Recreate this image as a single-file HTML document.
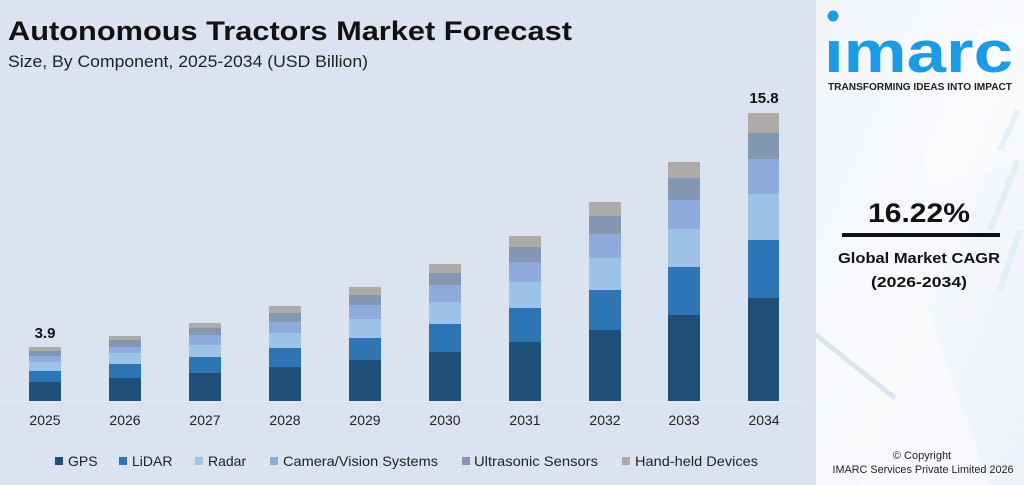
<!DOCTYPE html>
<html><head><meta charset="utf-8"><style>
html,body{margin:0;padding:0;}
body{width:1024px;height:485px;overflow:hidden;background:#dce3f0;}
svg{display:block;}
text{font-family:"Liberation Sans",sans-serif;}
</style></head><body>
<svg width="1024" height="485" viewBox="0 0 1024 485" xmlns="http://www.w3.org/2000/svg">
<defs>
<linearGradient id="rp" x1="0" y1="0" x2="1" y2="1">
<stop offset="0" stop-color="#f2f6fb"/><stop offset="0.5" stop-color="#f7f9fc"/><stop offset="1" stop-color="#eef2f7"/>
</linearGradient>
</defs>
<rect x="0" y="0" width="1024" height="485" fill="#dce3f0"/>
<rect x="816" y="0" width="208" height="485" fill="url(#rp)"/>
<!-- faint decorations -->
<polygon points="900,40 1024,20 1024,160 930,190" fill="#ffffff" opacity="0.3"/>
<polygon points="816,300 900,230 990,485 860,485" fill="#fbfcfe" opacity="0.5"/>
<line x1="816" y1="335" x2="895" y2="398" stroke="#d5e0ec" stroke-width="5" opacity="0.8"/>
<g stroke="#d7ecf4" stroke-width="6" opacity="0.6">
<line x1="1018" y1="110" x2="1000" y2="150"/><line x1="1018" y1="160" x2="990" y2="230"/><line x1="1020" y1="230" x2="1000" y2="290"/>
</g>

<!-- title -->
<text x="8" y="40" font-size="27" font-weight="bold" fill="#111" textLength="564" lengthAdjust="spacingAndGlyphs">Autonomous Tractors Market Forecast</text>
<text x="8" y="67" font-size="17" fill="#222" textLength="360" lengthAdjust="spacingAndGlyphs">Size, By Component, 2025-2034 (USD Billion)</text>

<!-- baseline -->
<line x1="0" y1="401.5" x2="806" y2="401.5" stroke="#e4e9f3" stroke-width="1"/>

<g>
<!-- 2025 -->
<rect x="29" y="347" width="32" height="4" fill="#aeaaaa"/><rect x="29" y="351" width="32" height="5" fill="#8497b0"/><rect x="29" y="356" width="32" height="6" fill="#8faadc"/><rect x="29" y="362" width="32" height="9" fill="#9dc3e6"/><rect x="29" y="371" width="32" height="11" fill="#2e75b6"/><rect x="29" y="382" width="32" height="19" fill="#1f4e79"/>
<!-- 2026 -->
<rect x="109" y="336" width="32" height="4" fill="#aeaaaa"/><rect x="109" y="340" width="32" height="7" fill="#8497b0"/><rect x="109" y="347" width="32" height="6" fill="#8faadc"/><rect x="109" y="353" width="32" height="11" fill="#9dc3e6"/><rect x="109" y="364" width="32" height="14" fill="#2e75b6"/><rect x="109" y="378" width="32" height="23" fill="#1f4e79"/>
<!-- 2027 -->
<rect x="189" y="323" width="32" height="5" fill="#aeaaaa"/><rect x="189" y="328" width="32" height="7" fill="#8497b0"/><rect x="189" y="335" width="32" height="10" fill="#8faadc"/><rect x="189" y="345" width="32" height="12" fill="#9dc3e6"/><rect x="189" y="357" width="32" height="16" fill="#2e75b6"/><rect x="189" y="373" width="32" height="28" fill="#1f4e79"/>
<!-- 2028 -->
<rect x="269" y="306" width="32" height="7" fill="#aeaaaa"/><rect x="269" y="313" width="32" height="9" fill="#8497b0"/><rect x="269" y="322" width="32" height="11" fill="#8faadc"/><rect x="269" y="333" width="32" height="15" fill="#9dc3e6"/><rect x="269" y="348" width="32" height="19" fill="#2e75b6"/><rect x="269" y="367" width="32" height="34" fill="#1f4e79"/>
<!-- 2029 -->
<rect x="349" y="287" width="32" height="8" fill="#aeaaaa"/><rect x="349" y="295" width="32" height="10" fill="#8497b0"/><rect x="349" y="305" width="32" height="14" fill="#8faadc"/><rect x="349" y="319" width="32" height="19" fill="#9dc3e6"/><rect x="349" y="338" width="32" height="22" fill="#2e75b6"/><rect x="349" y="360" width="32" height="41" fill="#1f4e79"/>
<!-- 2030 -->
<rect x="429" y="264" width="32" height="9" fill="#aeaaaa"/><rect x="429" y="273" width="32" height="12" fill="#8497b0"/><rect x="429" y="285" width="32" height="17" fill="#8faadc"/><rect x="429" y="302" width="32" height="22" fill="#9dc3e6"/><rect x="429" y="324" width="32" height="28" fill="#2e75b6"/><rect x="429" y="352" width="32" height="49" fill="#1f4e79"/>
<!-- 2031 -->
<rect x="509" y="236" width="32" height="11" fill="#aeaaaa"/><rect x="509" y="247" width="32" height="15" fill="#8497b0"/><rect x="509" y="262" width="32" height="20" fill="#8faadc"/><rect x="509" y="282" width="32" height="26" fill="#9dc3e6"/><rect x="509" y="308" width="32" height="34" fill="#2e75b6"/><rect x="509" y="342" width="32" height="59" fill="#1f4e79"/>
<!-- 2032 -->
<rect x="589" y="202" width="32" height="14" fill="#aeaaaa"/><rect x="589" y="216" width="32" height="18" fill="#8497b0"/><rect x="589" y="234" width="32" height="24" fill="#8faadc"/><rect x="589" y="258" width="32" height="32" fill="#9dc3e6"/><rect x="589" y="290" width="32" height="40" fill="#2e75b6"/><rect x="589" y="330" width="32" height="71" fill="#1f4e79"/>
<!-- 2033 -->
<rect x="668" y="162" width="32" height="16" fill="#aeaaaa"/><rect x="668" y="178" width="32" height="22" fill="#8497b0"/><rect x="668" y="200" width="32" height="29" fill="#8faadc"/><rect x="668" y="229" width="32" height="38" fill="#9dc3e6"/><rect x="668" y="267" width="32" height="48" fill="#2e75b6"/><rect x="668" y="315" width="32" height="86" fill="#1f4e79"/>
<!-- 2034 -->
<rect x="748" y="113" width="31" height="20" fill="#aeaaaa"/><rect x="748" y="133" width="31" height="26" fill="#8497b0"/><rect x="748" y="159" width="31" height="35" fill="#8faadc"/><rect x="748" y="194" width="31" height="46" fill="#9dc3e6"/><rect x="748" y="240" width="31" height="58" fill="#2e75b6"/><rect x="748" y="298" width="31" height="103" fill="#1f4e79"/>
</g>

<!-- value labels -->
<text x="45" y="338" font-size="15" font-weight="bold" fill="#111" text-anchor="middle">3.9</text>
<text x="764" y="103" font-size="15" font-weight="bold" fill="#111" text-anchor="middle">15.8</text>

<!-- year labels -->
<g font-size="14" fill="#222" text-anchor="middle">
<text x="45" y="425">2025</text><text x="125" y="425">2026</text><text x="205" y="425">2027</text><text x="285" y="425">2028</text><text x="365" y="425">2029</text><text x="445" y="425">2030</text><text x="525" y="425">2031</text><text x="605" y="425">2032</text><text x="684" y="425">2033</text><text x="764" y="425">2034</text>
</g>

<!-- legend -->
<g font-size="14" fill="#222">
<rect x="55" y="457" width="8" height="8" fill="#1f4e79"/><text x="68" y="466">GPS</text>
<rect x="119" y="457" width="8" height="8" fill="#2e75b6"/><text x="132" y="466">LiDAR</text>
<rect x="195" y="457" width="8" height="8" fill="#9dc3e6"/><text x="208" y="466">Radar</text>
<rect x="270" y="457" width="8" height="8" fill="#8faadc"/><text x="283" y="466" textLength="155" lengthAdjust="spacingAndGlyphs">Camera/Vision Systems</text>
<rect x="462" y="457" width="8" height="8" fill="#8497b0"/><text x="474" y="466" textLength="124" lengthAdjust="spacingAndGlyphs">Ultrasonic Sensors</text>
<rect x="622" y="457" width="8" height="8" fill="#aeaaaa"/><text x="635" y="466" textLength="123" lengthAdjust="spacingAndGlyphs">Hand-held Devices</text>
</g>

<!-- logo -->
<circle cx="833" cy="16" r="5.5" fill="#1b9be6"/>
<text x="824" y="72" font-size="58" font-weight="bold" fill="#1b9be6" textLength="189" lengthAdjust="spacingAndGlyphs">ımarc</text>
<text x="828" y="90" font-size="10.5" font-weight="bold" fill="#222" textLength="184" lengthAdjust="spacingAndGlyphs">TRANSFORMING IDEAS INTO IMPACT</text>

<!-- CAGR -->
<text x="919" y="222" font-size="27" font-weight="bold" fill="#111" text-anchor="middle" textLength="102" lengthAdjust="spacingAndGlyphs">16.22%</text>
<rect x="842" y="233" width="158" height="4" fill="#111"/>
<text x="919" y="263" font-size="15" font-weight="bold" fill="#111" text-anchor="middle" textLength="162" lengthAdjust="spacingAndGlyphs">Global Market CAGR</text>
<text x="919" y="287" font-size="15" font-weight="bold" fill="#111" text-anchor="middle" textLength="96" lengthAdjust="spacingAndGlyphs">(2026-2034)</text>

<!-- copyright -->
<text x="922" y="459" font-size="11" fill="#222" text-anchor="middle">© Copyright</text>
<text x="923" y="473" font-size="11" fill="#222" text-anchor="middle" textLength="181" lengthAdjust="spacingAndGlyphs">IMARC Services Private Limited 2026</text>
</svg>
</body></html>
